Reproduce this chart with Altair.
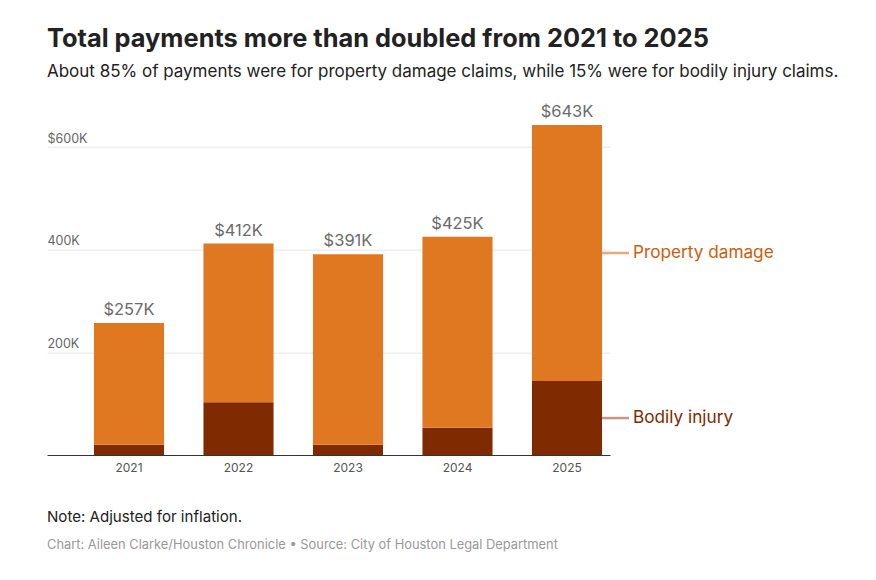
import altair as alt
import pandas as pd

years = ["2021", "2022", "2023", "2024", "2025"]
totals = [257, 412, 391, 425, 643]          # $K
bodily = [20, 103, 20, 53, 144]             # $K
property_dmg = [t - b for t, b in zip(totals, bodily)]
categories = ["Bodily injury", "Property damage"]
colors = ["#7f2a00", "#e07822"]
label_colors = ["#7f2a00", "#c8600e"]
line_colors = ["#c8948a", "#e3aa7c"]
y_ticks = [200, 400, 600]

rows = []
for y, b, p in zip(years, bodily, property_dmg):
    rows.append({"year": y, "category": "Bodily injury", "value": b, "order": 0})
    rows.append({"year": y, "category": "Property damage", "value": p, "order": 1})
df = pd.DataFrame(rows)

tot_df = pd.DataFrame({"year": years, "total": totals,
                       "label": [f"${t}K" for t in totals]})

last = len(years) - 1
lab_df = pd.DataFrame({
    "year": [years[last], years[last]],
    "category": categories,
    "mid": [bodily[last] / 2, bodily[last] + property_dmg[last] / 2],
    "lcolor": label_colors,
    "rcolor": line_colors,
})

notes_df = pd.DataFrame({
    "text": ["Note: Adjusted for inflation.",
             "Chart: Aileen Clarke/Houston Chronicle \u2022 Source: City of Houston Legal Department"],
})

FONT = "Inter"
W = 563
H = 308 * 700 / 600

xscale = alt.Scale(domain=years, paddingInner=0.36, paddingOuter=0.2508, align=0.855)
yscale = alt.Scale(domain=[0, 700])

bars = alt.Chart(df).mark_bar().encode(
    x=alt.X("year:N", scale=xscale, sort=years,
            axis=alt.Axis(title=None, labelAngle=0, ticks=False, domainColor="#333333",
                          domainWidth=1, labelColor="#555555", labelFontSize=12,
                          labelFont=FONT, labelPadding=7, grid=False)),
    y=alt.Y("value:Q", scale=yscale, stack="zero",
            axis=alt.Axis(title=None, values=y_ticks, ticks=False, domain=False,
                          labelAlign="left", labelBaseline="alphabetic", labelPadding=0,
                          labelOffset=-5, labelColor="#666666", labelFontSize=12.5,
                          labelFont=FONT, minExtent=0, maxExtent=0,
                          gridColor="#e6e6e6", gridWidth=1,
                          labelExpr="datum.value == 600 ? '$600K' : datum.value + 'K'")),
    color=alt.Color("category:N", scale=alt.Scale(domain=categories, range=colors), legend=None),
    order=alt.Order("order:Q"),
)

tot_text = alt.Chart(tot_df).mark_text(
    baseline="bottom", dy=-5, fontSize=16.5, font=FONT, color="#6b6b6b"
).encode(
    x=alt.X("year:N", scale=xscale, sort=years),
    y=alt.Y("total:Q", scale=yscale),
    text="label:N",
)

conn = alt.Chart(lab_df).mark_rule(strokeWidth=2.5).encode(
    x=alt.X("year:N", scale=xscale, sort=years, bandPosition=1),
    x2=alt.value(582),
    y=alt.Y("mid:Q", scale=yscale),
    color=alt.Color("rcolor:N", scale=None),
)

ser_text = alt.Chart(lab_df).mark_text(
    align="left", baseline="middle", dx=31, fontSize=17.2, font=FONT
).encode(
    x=alt.X("year:N", scale=xscale, sort=years, bandPosition=1),
    y=alt.Y("mid:Q", scale=yscale),
    text="category:N",
    color=alt.Color("lcolor:N", scale=None),
)

note1 = alt.Chart(notes_df.iloc[[0]]).mark_text(
    align="left", baseline="middle", fontSize=15.1, font=FONT, color="#222222"
).encode(x=alt.value(0), y=alt.value(421.5), text="text:N")

note2 = alt.Chart(notes_df.iloc[[1]]).mark_text(
    align="left", baseline="middle", fontSize=12.9, font=FONT, color="#999999"
).encode(x=alt.value(0), y=alt.value(449.5), text="text:N")

chart = alt.layer(bars, tot_text, conn, ser_text, note1, note2).properties(
    width=W, height=H,
    title=alt.TitleParams(
        text="Total payments more than doubled from 2021 to 2025",
        subtitle="About 85% of payments were for property damage claims, while 15% were for bodily injury claims.",
        anchor="start", frame="group", font=FONT, fontSize=25.4, fontWeight="bold",
        color="#222222", subtitleFont=FONT, subtitleFontSize=17, subtitleColor="#222222",
        subtitlePadding=11, offset=16,
    ),
    autosize=alt.AutoSizeParams(type="none"),
    padding={"left": 39, "top": 87.67, "right": 250, "bottom": 105},
).configure(background="white", view=alt.ViewConfig(strokeWidth=0))

chart.save("out.html", embed_options={"renderer": "svg", "actions": False})
